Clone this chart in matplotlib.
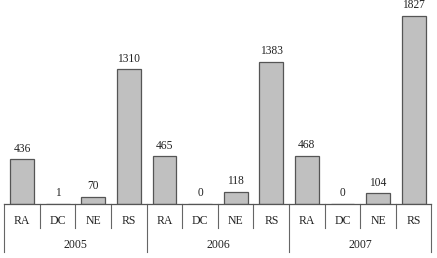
import matplotlib
matplotlib.use('Agg')
import matplotlib.pyplot as plt
import matplotlib.transforms as mtransforms

years = ['2005', '2006', '2007']
categories = ['RA', 'DC', 'NE', 'RS']
values_2005 = [436, 1, 70, 1310]
values_2006 = [465, 0, 118, 1383]
values_2007 = [468, 0, 104, 1827]

plt.rcParams['font.family'] = ['Liberation Serif', 'DejaVu Serif']

values = values_2005 + values_2006 + values_2007
labels = categories * len(years)
x = list(range(len(values)))

fig = plt.figure(figsize=(4.37, 2.58), dpi=100)
# axes spans from the top edge down to the baseline at y=204px
ax = fig.add_axes([4.3 / 437, 1 - 204 / 258, 427.2 / 437, 204 / 258])

bars = ax.bar(x, values, width=0.67, color='#c0c0c0', edgecolor='#555555', linewidth=0.9)
for b, v in zip(bars, values):
    ax.annotate(str(v), (b.get_x() + b.get_width() / 2, v), xytext=(0, 3.3),
                textcoords='offset points', ha='center', va='bottom',
                fontsize=8.3, color='#222222')

ax.set_xlim(-0.5, len(values) - 0.5)
ax.set_ylim(0, 1982)
for s in ['top', 'right', 'left']:
    ax.spines[s].set_visible(False)
ax.spines['bottom'].set_color('#555555')
ax.spines['bottom'].set_linewidth(0.9)
ax.set_xticks([])
ax.set_yticks([])

trans = mtransforms.blended_transform_factory(ax.transData, ax.transAxes)
for i in range(len(values) + 1):
    xd = i - 0.5
    low = -0.235 if i % 4 == 0 else -0.118
    ax.plot([xd, xd], [0, low], transform=trans, clip_on=False,
            color='#666666', linewidth=0.8)

for i, lab in enumerate(labels):
    ax.text(i, -0.082, lab, transform=trans, ha='center', va='center',
            fontsize=8.5, color='#222222')

for g, yr in enumerate(years):
    ax.text(g * 4 + 1.5, -0.201, yr, transform=trans, ha='center', va='center',
            fontsize=8.5, color='#222222')

fig.savefig('out.png', dpi=100)
